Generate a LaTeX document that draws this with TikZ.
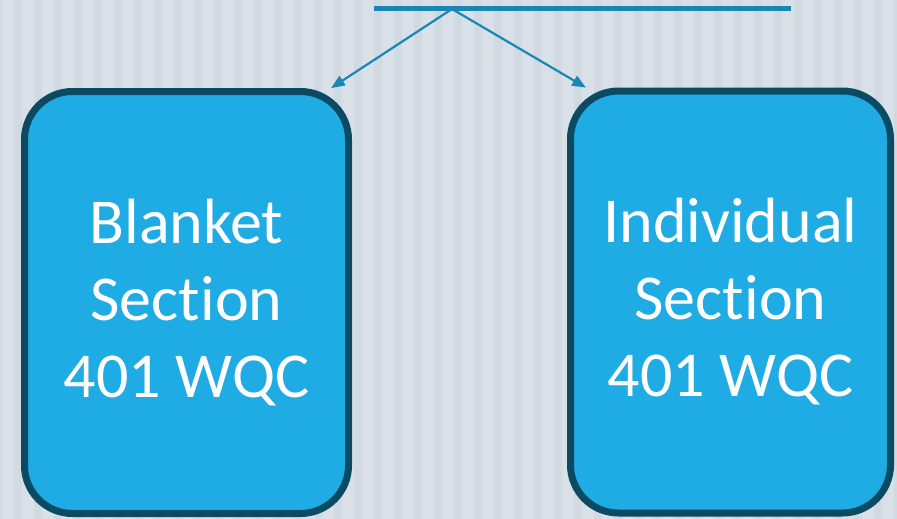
\documentclass[tikz,border=0pt]{standalone}
\usepackage{fontspec}
\setmainfont{Carlito}[Ligatures=NoCommon]
\usepackage{tikz}
\usetikzlibrary{arrows}
\definecolor{bgbase}{rgb}{0.85,0.88,0.91}
\definecolor{bgstripe}{rgb}{0.82,0.855,0.88}
\definecolor{boxfill}{rgb}{0.12,0.67,0.89}
\definecolor{boxedge}{rgb}{0.04,0.29,0.39}
\definecolor{linkblue}{rgb}{0.10,0.53,0.71}
\tikzset{
  certbox/.style={draw=boxedge,fill=boxfill,line width=7pt,rounded corners=48pt,
    minimum width=324pt,minimum height=422pt,align=center,text=white,
    font=\fontsize{64}{77}\selectfont},
  link/.style={->,draw=linkblue,line width=2.2pt}
}
\begin{document}
\begin{tikzpicture}[line cap=round,line join=round,>=triangle 45,x=1pt,y=1pt]
\useasboundingbox (0,-519) rectangle (897,0);
\fill[bgbase] (0,-519) rectangle (897,0);
\foreach \s in {0,...,45}
  \fill[bgstripe] (20*\s-6,-519) rectangle (20*\s+2,0);
% heading rule
\draw[linkblue,line width=5pt,line cap=butt] (374,-8.5)-- (791,-8.5);
\coordinate (split) at (452,-9);
\node[certbox] (lbox) at (186.5,-302.5) {Blanket\\Section\\401 WQC};
\node[certbox,minimum width=320pt] (rbox) at (730.5,-302) {Individual\\Section\\401 WQC};
\draw[link] (split) -- (lbox.56);
\draw[link] (split) -- (rbox.124);
\end{tikzpicture}
\end{document}
